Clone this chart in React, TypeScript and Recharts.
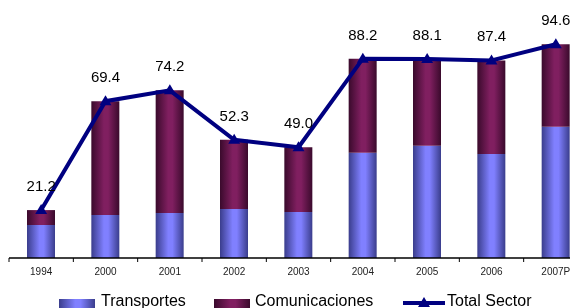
import { ComposedChart, Bar, Line, XAxis, YAxis, LabelList, Legend } from 'recharts';

const years = ['1994', '2000', '2001', '2002', '2003', '2004', '2005', '2006', '2007P'];
const transportes = [14.6, 19.0, 19.9, 21.7, 20.4, 46.6, 49.7, 46.0, 58.1];
const comunicaciones = [6.6, 50.4, 54.3, 30.6, 28.6, 41.6, 38.4, 41.4, 36.5];
const totalSector = [21.2, 69.4, 74.2, 52.3, 49.0, 88.2, 88.1, 87.4, 94.6];

const data = years.map((year, i) => ({
  year,
  transportes: transportes[i],
  comunicaciones: comunicaciones[i],
  total: totalSector[i],
}));

const font = '"Liberation Sans", Arial, sans-serif';
const navy = '#000080';
const blueGrad = 'linear-gradient(to right, #3a3d8c 0%, #8080ff 45%, #8080ff 60%, #3a3d8c 100%)';
const purpleGrad = 'linear-gradient(to right, #3a0a2c 0%, #801f60 45%, #801f60 60%, #3a0a2c 100%)';

// triangle marker for the total line
const TriangleDot = (props: any) => {
  const { cx, cy } = props;
  if (cx == null || cy == null) return null;
  return <polygon points={`${cx},${cy - 6} ${cx - 6},${cy + 4} ${cx + 6},${cy + 4}`} fill={navy} />;
};

// tick labels centred on the category, tick marks on the boundaries
const YearTick = (props: any) => {
  const { x, y, payload } = props;
  const half = payload?.offset ?? 32.15;
  return (
    <g>
      <line x1={x - half} y1={y} x2={x - half} y2={y + 4} stroke="#000" strokeWidth={1} />
      <text x={x} y={y + 17} textAnchor="middle" fontSize={10} fill="#222" fontFamily={font}>
        {payload.value}
      </text>
    </g>
  );
};

const LegendContent = () => (
  <div style={{ position: 'relative', height: 20, fontFamily: font, fontSize: 16, color: '#000' }}>
    <div style={{ position: 'absolute', left: 51, top: 7, width: 36, height: 12, background: blueGrad }} />
    <span style={{ position: 'absolute', left: 93, top: 0, lineHeight: '18px', whiteSpace: 'nowrap' }}>Transportes</span>
    <div style={{ position: 'absolute', left: 206, top: 7, width: 36, height: 12, background: purpleGrad }} />
    <span style={{ position: 'absolute', left: 247, top: 0, lineHeight: '18px', whiteSpace: 'nowrap' }}>Comunicaciones</span>
    <svg style={{ position: 'absolute', left: 395, top: 3 }} width={42} height={14}>
      <line x1={0} y1={8} x2={42} y2={8} stroke={navy} strokeWidth={4} />
      <polygon points="21,2 15,12 27,12" fill={navy} />
    </svg>
    <span style={{ position: 'absolute', left: 439, top: 0, lineHeight: '18px', whiteSpace: 'nowrap' }}>Total Sector</span>
  </div>
);

export default function App() {
  // fixed box so the clipped chart never makes the page scroll
  return (
    <div style={{ position: 'fixed', left: 8, top: 8, width: 562, height: 300, overflow: 'hidden' }}>
      <ComposedChart
        width={580}
        height={300}
        data={data}
        margin={{ top: 24, right: 0, left: 1, bottom: 30 }}
      >
        <defs>
          <linearGradient id="gradBlue" x1="0" y1="0" x2="1" y2="0">
            <stop offset="0%" stopColor="#3a3d8c" />
            <stop offset="45%" stopColor="#8080ff" />
            <stop offset="60%" stopColor="#8080ff" />
            <stop offset="100%" stopColor="#3a3d8c" />
          </linearGradient>
          <linearGradient id="gradPurple" x1="0" y1="0" x2="1" y2="0">
            <stop offset="0%" stopColor="#3a0a2c" />
            <stop offset="45%" stopColor="#801f60" />
            <stop offset="60%" stopColor="#801f60" />
            <stop offset="100%" stopColor="#3a0a2c" />
          </linearGradient>
        </defs>
        <XAxis
          dataKey="year"
          height={20}
          axisLine={{ stroke: '#000', strokeWidth: 1.5 }}
          tickLine={false}
          tickSize={0}
          tickMargin={0}
          interval={0}
          tick={<YearTick />}
        />
        <YAxis hide domain={[0, 100]} />
        <Legend
          verticalAlign="middle"
          align="center"
          content={<LegendContent />}
          wrapperStyle={{ top: 284, left: 0, width: 562 }}
        />
        <Bar dataKey="transportes" name="Transportes" stackId="s" fill="url(#gradBlue)" barSize={28} isAnimationActive={false} />
        <Bar dataKey="comunicaciones" name="Comunicaciones" stackId="s" fill="url(#gradPurple)" barSize={28} isAnimationActive={false} />
        <Line
          dataKey="total"
          name="Total Sector"
          stroke={navy}
          strokeWidth={4}
          dot={<TriangleDot />}
          activeDot={false}
          isAnimationActive={false}
        >
          <LabelList
            dataKey="total"
            position="top"
            offset={19}
            fontSize={15}
            fill="#000"
            fontFamily={font}
            formatter={(v: any) => Number(v).toFixed(1)}
          />
        </Line>
      </ComposedChart>
    </div>
  );
}
